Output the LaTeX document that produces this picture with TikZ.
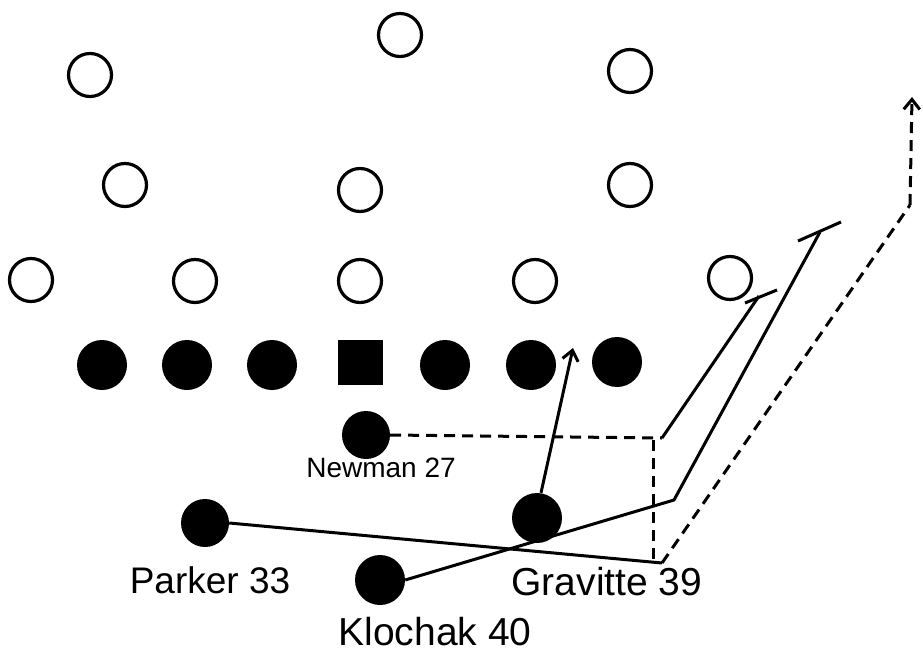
\documentclass[tikz,border=0pt]{standalone}
\usepackage{fontspec}
\setmainfont{Liberation Sans}
\usetikzlibrary{arrows.meta}
\begin{document}
\begin{tikzpicture}[x=1pt,y=-1pt,
  defp/.style={circle,draw,line width=3.2pt,minimum size=43pt,inner sep=0pt},
  offp/.style={circle,fill,minimum size=50pt,inner sep=0pt},
  ctrp/.style={rectangle,fill,minimum size=45pt,inner sep=0pt},
  route/.style={line width=3pt,line join=miter},
  droute/.style={route,dash pattern=on 11pt off 7pt},
  tip/.style={-{Straight Barb[length=10pt,width=16pt,line width=3pt]}},
  lbl/.style={inner sep=0pt}]
\useasboundingbox (0,0) rectangle (923,655);
% defense
\node[defp] (d1) at (400,35) {};
\node[defp] (d2) at (90,75) {};
\node[defp] (d3) at (630,71) {};
\node[defp] (d4) at (125,185) {};
\node[defp] (d5) at (360,190) {};
\node[defp] (d6) at (630,185) {};
\node[defp] (d7) at (31,280) {};
\node[defp] (d8) at (195,281) {};
\node[defp] (d9) at (360,281) {};
\node[defp] (d10) at (535,281) {};
\node[defp] (d11) at (730,278) {};
% offense line
\node[offp] (o1) at (102,365) {};
\node[offp] (o2) at (187,365) {};
\node[offp] (o3) at (272,365) {};
\node[ctrp] (c) at (360,362) {};
\node[offp] (o5) at (445,365) {};
\node[offp] (o6) at (531,365) {};
\node[offp] (o7) at (617,362) {};
% backs
\node[offp,minimum size=48pt] (newman) at (366,435) {};
\node[offp,minimum size=48pt] (parker) at (205,523) {};
\node[offp,minimum size=50pt] (gravitte) at (537,518) {};
\node[offp,minimum size=50pt] (klochak) at (380,580) {};
% labels
\node[lbl,font=\fontsize{28}{28}\selectfont] (ln) at (381,468) {Newman 27};
\node[lbl,font=\fontsize{37}{37}\selectfont] (lp) at (210,580) {Parker 33};
\node[lbl,font=\fontsize{39}{39}\selectfont] (lg) at (607,582) {Gravitte 39};
\node[lbl,font=\fontsize{39}{39}\selectfont] (lk) at (435,632) {Klochak 40};
% route points
\coordinate (n1) at (662,438);
\coordinate (n2) at (759,296);
\coordinate (n3a) at (745,303);
\coordinate (n3b) at (777,290);
\coordinate (p1) at (662,563);
\coordinate (p2) at (910,205);
\coordinate (p3) at (912,97);
\coordinate (k1) at (674,500);
\coordinate (k2) at (820,232);
\coordinate (k3a) at (798,241);
\coordinate (k3b) at (841,222);
\coordinate (v1) at (653,440);
\coordinate (v2) at (653,562);
\coordinate (g1) at (573,348);
% Newman route
\draw[droute] (newman.east) -- (n1);
\draw[route] (n1) -- (n2);
\draw[route] (n3a) -- (n3b);
\draw[droute] (v1) -- (v2);
% Parker route
\draw[route] (parker.east) -- (p1);
\draw[droute] (p1) -- (p2);
\draw[droute,tip] (p2) -- (p3);
% Klochak route
\draw[route] (klochak.east) -- (k1) -- (k2);
\draw[route] (k3a) -- (k3b);
% Gravitte route
\draw[route,tip] (gravitte.north) ++(4,0) -- (g1);
\end{tikzpicture}
\end{document}
